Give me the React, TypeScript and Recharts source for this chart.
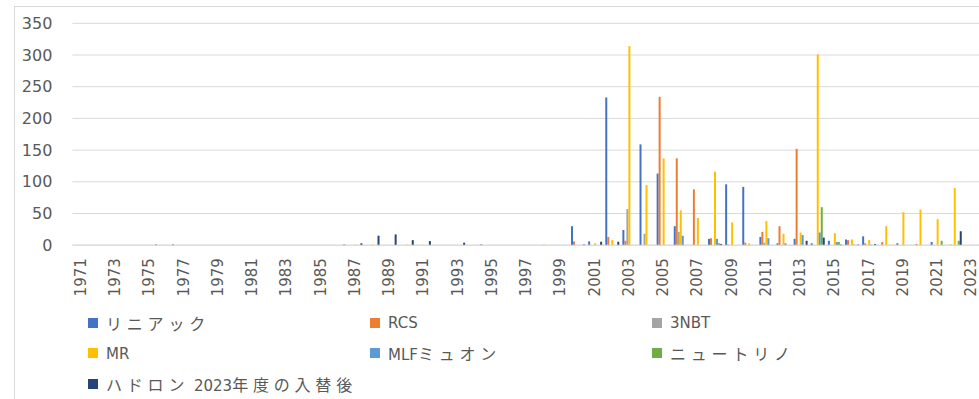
import React from 'react';
import { BarChart, Bar, XAxis, YAxis, CartesianGrid, Legend } from 'recharts';

// Fiscal years on the category axis
const years = [
  '1971', '1972', '1973', '1974', '1975', '1976', '1977', '1978', '1979', '1980',
  '1981', '1982', '1983', '1984', '1985', '1986', '1987', '1988', '1989', '1990',
  '1991', '1992', '1993', '1994', '1995', '1996', '1997', '1998', '1999', '2000',
  '2001', '2002', '2003', '2004', '2005', '2006', '2007', '2008', '2009', '2010',
  '2011', '2012', '2013', '2014', '2015', '2016', '2017', '2018', '2019', '2020',
  '2021', '2022', '2023',
];

const linac = [
  0, 0, 0, 0, 0, 0, 0, 0, 0, 0,
  0, 0, 0, 0, 0, 0, 0, 0, 0, 0,
  0, 0, 0, 0, 0, 0, 0, 0, 0, 30,
  6, 233, 24, 159, 113, 30, 0, 10, 96, 92,
  13, 3, 10, 3, 7, 9, 14, 0, 3, 0,
  5, 0, 0,
];

const rcs = [
  0, 0, 0, 0, 0, 0, 0, 0, 0, 0,
  0, 0, 0, 0, 0, 0, 0, 0, 0, 0,
  0, 0, 0, 0, 0, 0, 0, 0, 0, 6,
  0, 13, 7, 0, 234, 137, 88, 11, 1, 4,
  21, 30, 152, 0, 0, 8, 3, 5, 0, 2,
  0, 1, 0,
];

const nbt3 = [
  0, 0, 0, 0, 0, 0, 0, 0, 0, 0,
  0, 0, 0, 0, 0, 0, 0, 0, 0, 0,
  0, 0, 0, 0, 0, 0, 0, 0, 0, 0,
  0, 0, 57, 18, 0, 21, 0, 0, 0, 0,
  4, 0, 0, 0, 0, 0, 0, 0, 0, 0,
  0, 0, 0,
];

const mr = [
  0, 0, 0, 0, 0, 0, 0, 0, 0, 0,
  0, 0, 0, 0, 0, 0, 1, 1, 0, 1,
  0, 0, 0, 0, 0, 0, 0, 1, 0, 0,
  3, 8, 314, 95, 137, 55, 43, 116, 36, 3,
  38, 18, 20, 301, 19, 9, 8, 30, 52, 56,
  41, 90, 0,
];

const mlf = [
  0, 0, 0, 0, 0, 0, 0, 0, 0, 0,
  0, 0, 0, 0, 0, 0, 0, 0, 0, 0,
  0, 0, 0, 0, 0, 0, 0, 0, 0, 0,
  0, 0, 0, 0, 0, 15, 0, 10, 0, 0,
  11, 3, 16, 20, 5, 1, 1, 0, 0, 0,
  0, 0, 0,
];

const neutrino = [
  0, 0, 0, 0, 0, 0, 0, 0, 0, 0,
  0, 0, 0, 0, 0, 0, 0, 0, 0, 0,
  0, 0, 0, 0, 0, 0, 0, 0, 0, 0,
  0, 0, 0, 0, 0, 0, 0, 3, 0, 0,
  0, 0, 0, 60, 5, 0, 0, 0, 0, 0,
  7, 7, 0,
];

const hadron = [
  0, 0, 0, 0, 1, 1, 0, 0, 0, 0,
  0, 0, 0, 0, 0, 1, 3, 15, 17, 8,
  6.5, 0, 4, 1, 0, 0, 0, 0, 0, 1,
  5.5, 5.5, 0, 0, 0, 0, 0, 2, 0, 0,
  0, 0, 7, 12, 1, 1, 2, 0, 0, 0,
  0, 22, 0,
];

const yTicks = [0, 50, 100, 150, 200, 250, 300, 350];

const series = [
  { key: 'linac', name: 'リニアック', color: '#4472C4', values: linac },
  { key: 'rcs', name: 'RCS', color: '#ED7D31', values: rcs },
  { key: 'nbt3', name: '3NBT', color: '#A5A5A5', values: nbt3 },
  { key: 'mr', name: 'MR', color: '#FFC000', values: mr },
  { key: 'mlf', name: 'MLFミュオン', color: '#5B9BD5', values: mlf },
  { key: 'neutrino', name: 'ニュートリノ', color: '#70AD47', values: neutrino },
  { key: 'hadron', name: 'ハドロン 2023年度の入替後', color: '#264478', values: hadron },
];

const rows = years.map((year, i) => {
  const row: Record<string, string | number> = { year };
  series.forEach((s) => {
    row[s.key] = s.values[i];
  });
  return row;
});

const TEXT = '#595959';
const LATIN_FONT = '"DejaVu Sans", "Noto Sans CJK JP", sans-serif';
const CJK_FONT = '"Noto Sans CJK JP", sans-serif';

const YearTick = (props: any) => {
  const { x, y, payload } = props;
  return (
    <text
      x={x}
      y={y}
      transform={`rotate(-90 ${x} ${y})`}
      textAnchor="end"
      dominantBaseline="central"
      fill={TEXT}
      fontSize={15}
      fontFamily={LATIN_FONT}
    >
      {payload.value}
    </text>
  );
};

// Latin runs and Japanese runs are set in different fonts
const renderLabel = (label: string) => {
  const parts = label.split(/([\u3000-\u9fff\uff00-\uffef]+)/).filter((p) => p.length > 0);
  return parts.map((p, i) => {
    const cjk = /[\u3000-\u9fff\uff00-\uffef]/.test(p);
    return (
      <span
        key={i}
        style={
          cjk
            ? { fontFamily: CJK_FONT, fontSize: 16, letterSpacing: 4.8 }
            : { fontFamily: LATIN_FONT, fontSize: 15, whiteSpace: 'pre' }
        }
      >
        {p}
      </span>
    );
  });
};

// Three-column legend, entries in series order
const LegendBox = () => (
  <div style={{ position: 'relative', width: 979, height: 92 }}>
    {series.map((s, i) => {
      const col = i % 3;
      const row = Math.floor(i / 3);
      return (
        <div
          key={s.key}
          style={{
            position: 'absolute',
            left: 88 + col * 282,
            top: 5.5 + row * 30.5,
            height: 20,
            display: 'flex',
            alignItems: 'center',
            color: TEXT,
            whiteSpace: 'nowrap',
          }}
        >
          <span style={{ display: 'inline-block', width: 10, height: 10, background: s.color, marginRight: 8 }} />
          <span>{renderLabel(s.name)}</span>
        </div>
      );
    })}
  </div>
);

export default function App() {
  return (
    <div
      style={{
        position: 'absolute',
        left: 0,
        top: 0,
        width: 979,
        height: 399,
        overflow: 'hidden',
        background: '#ffffff',
        fontFamily: LATIN_FONT,
      }}
    >
      <div
        style={{
          position: 'absolute',
          left: 14,
          top: 6,
          width: 1000,
          height: 420,
          borderLeft: '1px solid #d9d9d9',
          borderTop: '1px solid #d9d9d9',
        }}
      />
      <BarChart
        width={980}
        height={399}
        data={rows}
        margin={{ top: 23.3, right: 0, bottom: 0, left: 0 }}
        barGap={0}
        barSize={2}
      >
        <CartesianGrid vertical={false} stroke="#d9d9d9" />
        <XAxis
          dataKey="year"
          interval={1}
          height={61.8}
          tickLine={false}
          tickSize={6}
          tickMargin={7}
          axisLine={{ stroke: '#d9d9d9' }}
          tick={<YearTick />}
        />
        <YAxis
          domain={[0, 350]}
          ticks={yTicks}
          width={72.4}
          axisLine={false}
          tickLine={false}
          tickSize={6}
          tickMargin={14}
          tick={{ fill: TEXT, fontSize: 16, fontFamily: LATIN_FONT }}
        />
        <Legend
          verticalAlign="bottom"
          align="left"
          width={979}
          wrapperStyle={{ left: 0, bottom: 0 }}
          content={<LegendBox />}
        />
        {series.map((s) => (
          <Bar key={s.key} dataKey={s.key} name={s.name} fill={s.color} isAnimationActive={false} />
        ))}
      </BarChart>
    </div>
  );
}
